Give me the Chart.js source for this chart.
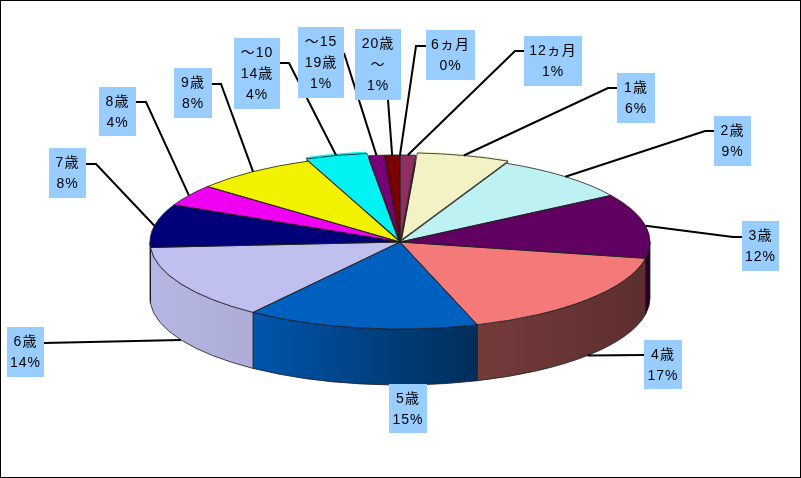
<!DOCTYPE html>
<html lang="ja">
<head>
<meta charset="utf-8">
<title>年齢別割合</title>
<style>
    html, body { margin: 0; padding: 0; background: #fff; overflow: hidden; }
    canvas { display: block; }
</style>
<script src="https://cdn.jsdelivr.net/npm/chart.js@4"></script>
</head>
<body>
<canvas id="agePie" width="801" height="478"></canvas>
<script>
const categories = ['6ヵ月', '12ヵ月', '1歳', '2歳', '3歳', '4歳', '5歳', '6歳', '7歳', '8歳', '9歳', '10～14歳', '15～19歳', '20歳～'];
const percentValues = [0, 1, 6, 9, 12, 17, 15, 14, 8, 4, 8, 4, 1, 1];

// how each category wraps inside its label box
const labelLines = [['6ヵ月'], ['12ヵ月'], ['1歳'], ['2歳'], ['3歳'], ['4歳'], ['5歳'], ['6歳'], ['7歳'], ['8歳'], ['9歳'], ['～10', '14歳'], ['～15', '19歳'], ['20歳', '～']];

const sliceColors = ['#993366', '#8f2f60', '#f2f2c4', '#bef2f2', '#600060', '#f47a7a', '#0060c0', '#c0c0f0', '#000078', '#f000f0', '#f2f200', '#00f2f2', '#780078', '#780000'];
const sliceOffsets = [0, 0, 20, 0, 0, 0, 0, 0, 0, 0, 0, 20, 0, 0];

// label box x, y, w, h
const labelBoxes = [
    [426, 30, 49, 50], [524, 36, 58, 50], [617, 73, 38, 50], [714, 116, 37, 50], [742, 221, 37, 50],
    [644, 340, 38, 49], [389, 384, 38, 49], [7, 327, 37, 50], [49, 148, 37, 50], [99, 87, 37, 49],
    [174, 68, 38, 50], [234, 38, 46, 71], [298, 27, 46, 71], [355, 29, 46, 71]
];
// where each leader leaves its box, then its elbow if it has one
// the 5歳 box sits right against the wall so it has no leader
const leaderStarts = [
    [426, 46], [524, 51], [617, 88], [714, 131], [742, 237],
    [644, 355], null, [44, 343], [86, 164], [136, 102],
    [212, 84], [280, 63], [344, 53], [388, 100]
];
const leaderElbows = [
    [416, 46], [515, 51], [608, 88], [705, 131], [733, 237],
    null, null, null, [96, 164], [146, 102],
    [221, 84], [289, 63], null, null
];

const pieRadiusX = 250;
const pieRadiusY = 87;
const pieDepth = 56;

// wall brightness from the left edge of the pie to the right edge
const wallShading = [[0, 0.95], [0.2, 0.9], [0.645, 0.48], [1, 0.38]];

const shadeColor = (hex, factor) => {
    const channel = (start) => Math.round(parseInt(hex.substr(start, 2), 16) * factor);
    return `rgb(${channel(1)}, ${channel(3)}, ${channel(5)})`;
};

const sliceGeometry = (arc) => {
    const { x, y, startAngle, endAngle, outerRadius } = arc.getProps(['x', 'y', 'startAngle', 'endAngle', 'outerRadius']);
    const mid = (startAngle + endAngle) / 2;
    // the library moves an offset arc by a quarter of its offset option
    const shift = (arc.options.offset || 0) / 4;
    return {
        cx: x + Math.cos(mid) * shift * pieRadiusX / outerRadius,
        cy: y + Math.sin(mid) * shift * pieRadiusY / outerRadius,
        startAngle, endAngle, mid
    };
};

const drawWalls = (chart) => {
    const ctx = chart.ctx;
    const arcs = chart.getDatasetMeta(0).data;
    ctx.save();
    ctx.lineWidth = 1;
    ctx.strokeStyle = 'rgba(30, 30, 30, 0.8)';

    // cut faces only show where an exploded slice opens a gap
    arcs.forEach((arc, i) => {
        const s = sliceGeometry(arc);
        [s.startAngle, s.endAngle].forEach((angle, side) => {
            const facesViewer = side === 0 ? Math.cos(angle) < 0 : Math.cos(angle) > 0;
            if (!facesViewer || s.startAngle === s.endAngle) {
                return;
            }
            const ex = s.cx + Math.cos(angle) * pieRadiusX;
            const ey = s.cy + Math.sin(angle) * pieRadiusY;
            ctx.beginPath();
            ctx.moveTo(s.cx, s.cy);
            ctx.lineTo(ex, ey);
            ctx.lineTo(ex, ey + pieDepth);
            ctx.lineTo(s.cx, s.cy + pieDepth);
            ctx.closePath();
            ctx.fillStyle = shadeColor(sliceColors[i], 0.55);
            ctx.fill();
        });
    });

    // curved wall for whatever part of a slice lies on the near half
    arcs.forEach((arc, i) => {
        const s = sliceGeometry(arc);
        const from = Math.max(s.startAngle, 0);
        const to = Math.min(s.endAngle, Math.PI);
        if (to <= from) {
            return;
        }
        const gradient = ctx.createLinearGradient(s.cx - pieRadiusX, 0, s.cx + pieRadiusX, 0);
        wallShading.forEach(([stop, factor]) => gradient.addColorStop(stop, shadeColor(sliceColors[i], factor)));
        ctx.beginPath();
        ctx.ellipse(s.cx, s.cy, pieRadiusX, pieRadiusY, 0, from, to);
        ctx.ellipse(s.cx, s.cy + pieDepth, pieRadiusX, pieRadiusY, 0, to, from, true);
        ctx.closePath();
        ctx.fillStyle = gradient;
        ctx.fill();
        ctx.stroke();
    });
    ctx.restore();
};

const drawSliceOutlines = (chart) => {
    const ctx = chart.ctx;
    ctx.save();
    ctx.lineWidth = 1;
    ctx.strokeStyle = 'rgba(30, 30, 30, 0.8)';
    chart.getDatasetMeta(0).data.forEach((arc) => {
        const s = sliceGeometry(arc);
        if (s.startAngle === s.endAngle) {
            return;
        }
        ctx.beginPath();
        ctx.moveTo(s.cx, s.cy);
        ctx.ellipse(s.cx, s.cy, pieRadiusX, pieRadiusY, 0, s.startAngle, s.endAngle);
        ctx.closePath();
        ctx.stroke();
    });
    ctx.restore();
};

const drawLabels = (chart) => {
    const ctx = chart.ctx;
    const arcs = chart.getDatasetMeta(0).data;
    ctx.save();

    // leaders go first, the boxes sit on top of them
    ctx.strokeStyle = '#000';
    ctx.lineWidth = 2;
    arcs.forEach((arc, i) => {
        if (!leaderStarts[i]) {
            return;
        }
        const s = sliceGeometry(arc);
        const endX = s.cx + Math.cos(s.mid) * pieRadiusX;
        let endY = s.cy + Math.sin(s.mid) * pieRadiusY;
        if (Math.sin(s.mid) > 0) {
            endY += pieDepth;
        }
        ctx.beginPath();
        ctx.moveTo(leaderStarts[i][0], leaderStarts[i][1]);
        if (leaderElbows[i]) {
            ctx.lineTo(leaderElbows[i][0], leaderElbows[i][1]);
        }
        ctx.lineTo(endX, endY);
        ctx.stroke();
    });

    ctx.font = '14px "Liberation Sans", "Noto Sans CJK JP"';
    ctx.letterSpacing = '1px';
    ctx.textAlign = 'center';
    ctx.textBaseline = 'middle';
    labelBoxes.forEach(([x, y, w, h], i) => {
        ctx.fillStyle = '#99ccff';
        ctx.fillRect(x, y, w, h);
        ctx.fillStyle = '#000';
        const lines = labelLines[i].concat(`${percentValues[i]}%`);
        lines.forEach((line, n) => {
            ctx.fillText(line, x + w / 2, y + 15 + n * 21);
        });
    });

    // frame round the whole chart
    ctx.strokeStyle = '#000';
    ctx.lineWidth = 1;
    ctx.strokeRect(0.5, 0.5, 800, 477);
    ctx.restore();
};

const squashedPie = {
    id: 'squashedPie',
    beforeDatasetsDraw(chart) {
        drawWalls(chart);
        const arc = chart.getDatasetMeta(0).data[0];
        const { x, y, outerRadius } = arc.getProps(['x', 'y', 'outerRadius']);
        chart.ctx.save();
        chart.ctx.translate(x, y);
        chart.ctx.scale(pieRadiusX / outerRadius, pieRadiusY / outerRadius);
        chart.ctx.translate(-x, -y);
    },
    afterDatasetsDraw(chart) {
        chart.ctx.restore();
        drawSliceOutlines(chart);
        drawLabels(chart);
    }
};

new Chart(document.getElementById('agePie').getContext('2d'), {
    type: 'pie',
    data: {
        labels: categories,
        datasets: [{
            data: percentValues,
            backgroundColor: sliceColors,
            offset: sliceOffsets,
            borderWidth: 0,
            clip: false
        }]
    },
    options: {
        responsive: false,
        animation: false,
        layout: {
            padding: { left: 200, right: 201, top: 42, bottom: 36 }
        },
        plugins: {
            legend: { display: false },
            tooltip: { enabled: false }
        }
    },
    plugins: [squashedPie]
});
</script>
</body>
</html>
